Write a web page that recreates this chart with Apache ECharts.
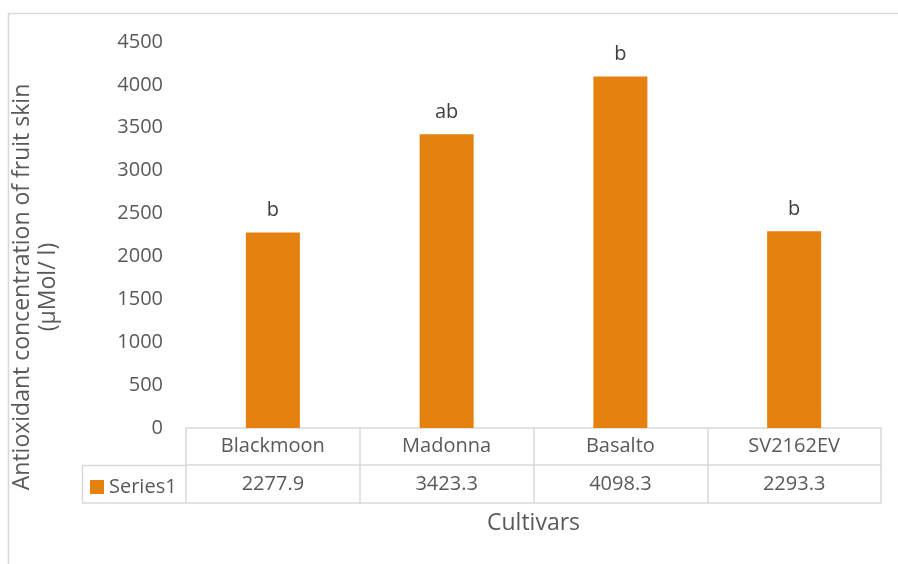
<!DOCTYPE html>
<html>
<head>
<meta charset="utf-8">
<script src="https://cdn.jsdelivr.net/npm/echarts@6/dist/echarts.min.js"></script>
<style>
  html, body { margin: 0; padding: 0; background: #fff; }
  #chart { width: 898px; height: 564px; }
</style>
</head>
<body>
<div id="chart"></div>
<script>
// Antioxidant concentration per cultivar, with significance letters and a data table
const cultivars = ['Blackmoon', 'Madonna', 'Basalto', 'SV2162EV'];
const antioxidant = [2277.9, 3423.3, 4098.3, 2293.3];
const letters = ['b', 'ab', 'b', 'b'];
const seriesName = 'Series1';
const yTicks = { min: 0, max: 4500, step: 500 };

const FONT = '"Open Sans", sans-serif';
const TXT = '#595959';
const LINE = '#d9d9d9';
const BAR = '#E5820F';
const FS = 20;

const chart = echarts.init(document.getElementById('chart'));

const tableLine = { show: true, lineStyle: { color: LINE, width: 1.5 } };

chart.setOption({
  animation: false,
  textStyle: { fontFamily: FONT },
  grid: { left: 186, right: 17, top: 42, bottom: 136 },
  legend: {
    left: 90, top: 477, padding: 0,
    icon: 'rect', itemWidth: 14, itemHeight: 14, itemGap: 5,
    selectedMode: false,
    textStyle: { fontFamily: FONT, fontSize: FS, color: TXT },
    data: [seriesName]
  },
  xAxis: [
    {
      type: 'category', data: cultivars, position: 'bottom',
      axisLine: tableLine,
      axisTick: { show: true, length: 75, lineStyle: { color: LINE, width: 1.5 } },
      axisLabel: { margin: 8, fontSize: FS, color: TXT, fontFamily: FONT }
    },
    {
      type: 'category', data: cultivars, position: 'bottom', offset: 37,
      axisLine: tableLine, axisTick: { show: false },
      axisLabel: {
        margin: 9, fontSize: FS, color: TXT, fontFamily: FONT,
        formatter: (v, i) => antioxidant[i].toFixed(1)
      }
    },
    {
      type: 'category', data: cultivars, position: 'bottom', offset: 75,
      axisLine: tableLine, axisTick: { show: false }, axisLabel: { show: false },
      name: 'Cultivars', nameLocation: 'middle', nameGap: 9,
      nameTextStyle: { fontSize: 23, color: TXT, fontFamily: FONT }
    }
  ],
  yAxis: {
    type: 'value', min: yTicks.min, max: yTicks.max, interval: yTicks.step,
    axisLine: { show: false }, axisTick: { show: false }, splitLine: { show: false },
    axisLabel: {
      margin: 23, fontSize: FS, color: TXT, fontFamily: FONT,
      formatter: v => String(v)
    }
  },
  series: [{
    name: seriesName, type: 'bar', data: antioxidant, barWidth: 54,
    itemStyle: { color: BAR },
    label: {
      show: true, position: 'top', distance: 12,
      fontSize: FS, color: '#404040', fontFamily: FONT,
      formatter: p => letters[p.dataIndex]
    }
  }],
  graphic: [
    {
      type: 'rect', silent: true,
      shape: { x: 8.5, y: 13.5, width: 900, height: 560 },
      style: { fill: 'none', stroke: LINE, lineWidth: 1.5 }
    },
    {
      type: 'polyline', silent: true,
      shape: { points: [[186, 465.5], [82.5, 465.5], [82.5, 503], [186, 503]] },
      style: { fill: 'none', stroke: LINE, lineWidth: 1.5 }
    },
    {
      type: 'text', silent: true,
      x: 35, y: 287, rotation: Math.PI / 2,
      style: {
        text: 'Antioxidant concentration of fruit skin\n(µMol/ l)',
        fontFamily: FONT, fontSize: 23, lineHeight: 26, fill: TXT,
        align: 'center', verticalAlign: 'middle'
      }
    }
  ]
});
</script>
</body>
</html>
